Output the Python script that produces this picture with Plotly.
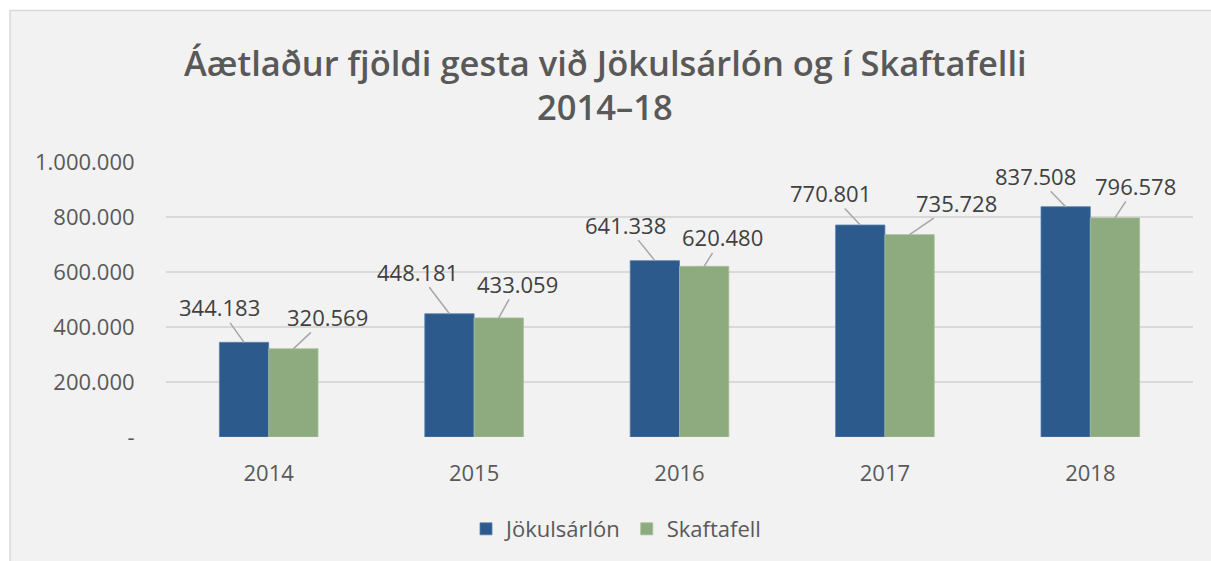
import plotly.graph_objects as go

years = ["2014", "2015", "2016", "2017", "2018"]
jokulsarlon = [344183, 448181, 641338, 770801, 837508]
skaftafell = [320569, 433059, 620480, 735728, 796578]
series_names = ["Jökulsárlón", "Skaftafell"]
y_tickvals = [0, 200000, 400000, 600000, 800000, 1000000]
y_ticktext = ["-", "200.000", "400.000", "600.000", "800.000", "1.000.000"]
title_lines = ["Áætlaður fjöldi gesta við Jökulsárlón og í Skaftafelli", "2014–18"]

def fmt(v):
    return f"{v:,}".replace(",", ".")

W, H = 1211, 561
PLOT_L, PLOT_R, PLOT_T, PLOT_B = 166, 1193, 162, 438   # page pixels
L, R, T, B = PLOT_L, W - PLOT_R, PLOT_T, H - PLOT_B
PW, PH = W - L - R, H - T - B

def px(xpix):
    return (xpix - PLOT_L) / PW

def py(ypix):
    return (PLOT_B - ypix) / PH

FONT = "Open Sans"
BLUE = "#2c5a8c"
GREEN = "#8dab7f"
TXT = "#595959"

BARGAP = 0.52

fig = go.Figure()
fig.add_trace(go.Bar(x=years, y=jokulsarlon, name=series_names[0],
                     marker=dict(color=BLUE, line=dict(color="#5a7fae", width=0.8))))
fig.add_trace(go.Bar(x=years, y=skaftafell, name=series_names[1],
                     marker=dict(color=GREEN, line=dict(color="#a3bd97", width=0.8))))

# label offsets (pixels) of text centre relative to bar top
blue_off = [(-25, -35), (-32, -42), (-29, -36), (-30, -32), (-30, -31)]
green_off = [(34, -32), (19, -34), (18, -29), (47, -32), (21, -32)]

half = (1 - BARGAP) / 4
annotations = []
for i in range(len(years)):
    for vals, offs, sign in ((jokulsarlon, blue_off, -1), (skaftafell, green_off, 1)):
        ax, ay = offs[i]
        annotations.append(dict(
            x=i + sign * half, y=vals[i], xref="x", yref="y",
            text=fmt(vals[i]), showarrow=True, arrowhead=0, arrowwidth=1.5,
            arrowcolor="#a6a6a6", ax=ax, ay=ay, standoff=0, borderpad=0,
            font=dict(family=FONT, size=22, color="#404040")))

for line, ypix in zip(title_lines, (62, 106)):
    annotations.append(dict(x=px(605), y=py(ypix), xref="paper", yref="paper",
                            text=line, showarrow=False, xanchor="center", yanchor="middle",
                            font=dict(family=FONT, size=34.5, color=TXT, weight=600)))

fig.update_layout(
    width=W, height=H,
    margin=dict(l=L, r=R, t=T, b=B, pad=0),
    paper_bgcolor="white",
    plot_bgcolor="rgba(0,0,0,0)",
    barmode="group", bargap=BARGAP, bargroupgap=0,
    font=dict(family=FONT, color=TXT, size=22),
    showlegend=True,
    legend=dict(orientation="h", x=px(616), xanchor="center", y=py(529), yanchor="middle",
                font=dict(family=FONT, size=22, color=TXT), bgcolor="rgba(0,0,0,0)",
                itemwidth=30, tracegroupgap=0),
    annotations=annotations,
    shapes=[dict(type="rect", xref="paper", yref="paper", layer="below",
                 x0=px(10), x1=px(1240), y0=py(600), y1=py(10),
                 fillcolor="#f2f2f2", line=dict(color="#d9d9d9", width=1.5))],
)
fig.update_yaxes(range=[0, 1000000], tickvals=y_tickvals, ticktext=y_ticktext,
                 showgrid=True, gridcolor="#d9d9d9", gridwidth=1.5, zeroline=False, showline=False,
                 ticks="outside", ticklen=26, tickcolor="rgba(0,0,0,0)",
                 tickfont=dict(family=FONT, size=22, color=TXT), fixedrange=True)
fig.update_xaxes(showgrid=False, showline=False, zeroline=False,
                 ticks="outside", ticklen=17, tickcolor="rgba(0,0,0,0)",
                 tickfont=dict(family=FONT, size=22, color=TXT), fixedrange=True)

fig.write_html("out.html", config={"responsive": False, "displayModeBar": False},
               post_script="document.body.style.margin='0px';document.body.style.overflow='hidden';")
